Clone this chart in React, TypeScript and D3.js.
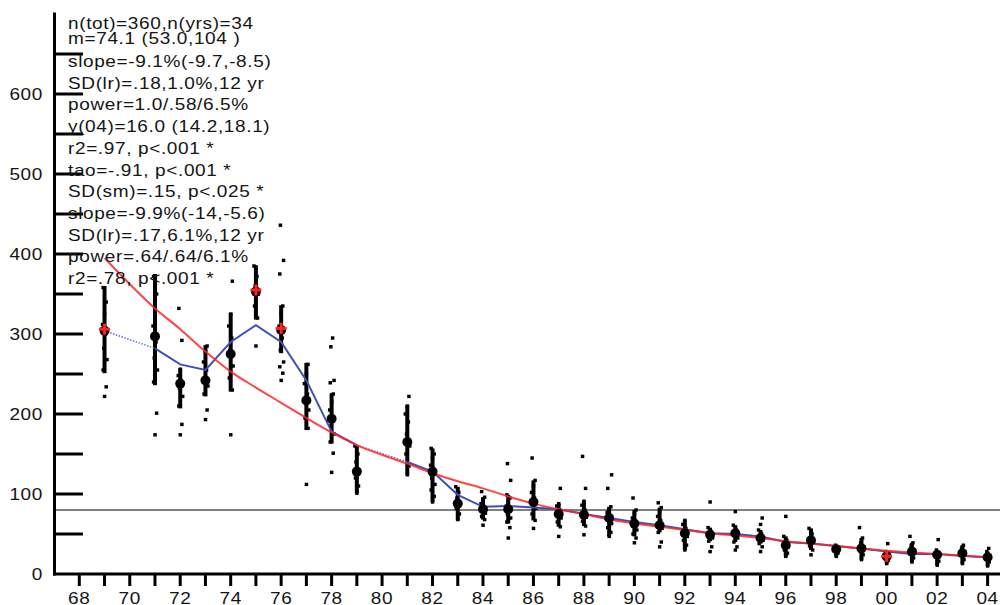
import React from 'react';
import * as d3 from 'd3';

// Sampling years (two-digit labels on the axis)
const YEARS = [
  1969, 1971, 1972, 1973, 1974, 1975, 1976, 1977, 1978, 1979,
  1981, 1982, 1983, 1984, 1985, 1986, 1987, 1988, 1989, 1990,
  1991, 1992, 1993, 1994, 1995, 1996, 1997, 1998, 1999, 2000,
  2001, 2002, 2003, 2004,
];

// Annual means (large black dots)
const MEANS = [
  304, 297, 238, 242, 275, 353, 305, 217, 194, 128,
  165, 128, 88, 81, 81, 90, 75, 74, 70, 63,
  61, 51, 49, 51, 45, 36, 42, 31, 32, 22,
  28, 24, 26, 21,
];

// Vertical interval drawn through each annual mean
const BAR_LO = [
  251, 236, 207, 222, 228, 318, 276, 180, 163, 101,
  124, 90, 67, 68, 63, 67, 59, 60, 47, 47,
  52, 30, 41, 40, 38, 22, 30, 22, 18, 13,
  15, 11, 13, 10,
];
const BAR_HI = [
  360, 375, 257, 286, 326, 386, 336, 264, 226, 161,
  211, 157, 109, 96, 99, 117, 88, 91, 84, 80,
  83, 67, 58, 61, 55, 47, 57, 36, 45, 28,
  39, 30, 36, 28,
];

// Individual observations per year
const OBS: number[][] = [
  [222, 234, 255, 268, 282, 300, 312, 325, 340, 358],
  [174, 201, 240, 255, 270, 290, 310, 330, 350, 372],
  [174, 187, 210, 222, 232, 240, 248, 256, 292, 332],
  [193, 205, 225, 235, 245, 255, 265, 278, 285],
  [174, 230, 245, 260, 280, 295, 310, 325, 366],
  [285, 320, 335, 350, 360, 372, 385],
  [242, 251, 259, 265, 280, 295, 310, 325, 335, 375, 392, 436],
  [112, 182, 195, 205, 215, 225, 238, 250, 262],
  [127, 151, 165, 175, 185, 195, 205, 215, 225, 239, 242, 284, 295],
  [101, 110, 120, 130, 140, 150, 160],
  [124, 135, 150, 160, 175, 190, 200, 210, 222],
  [90, 97, 105, 112, 120, 128, 136, 145, 150, 157],
  [68, 75, 82, 88, 95, 102, 109],
  [61, 68, 72, 76, 80, 84, 88, 92, 96, 103],
  [45, 58, 65, 70, 75, 80, 85, 90, 95, 99, 117, 138],
  [57, 67, 75, 82, 88, 95, 102, 110, 117, 145],
  [47, 59, 65, 70, 75, 80, 85, 88, 107],
  [49, 60, 66, 71, 76, 80, 86, 91, 107, 147],
  [47, 52, 58, 63, 68, 72, 77, 81, 84, 107, 124],
  [39, 45, 50, 55, 60, 65, 70, 75, 80, 95],
  [34, 40, 52, 57, 62, 67, 72, 78, 83, 89],
  [30, 36, 42, 47, 52, 57, 62, 67],
  [28, 34, 41, 45, 49, 53, 58, 90],
  [30, 34, 40, 45, 50, 55, 61, 78],
  [28, 34, 38, 42, 46, 50, 55, 62, 70],
  [22, 26, 30, 34, 38, 42, 47, 72],
  [24, 30, 35, 40, 45, 50, 57],
  [22, 26, 30, 33, 36],
  [18, 24, 29, 34, 39, 45, 58],
  [13, 17, 21, 25, 28, 38],
  [15, 20, 25, 30, 35, 39, 47],
  [11, 16, 21, 25, 30, 43],
  [13, 18, 23, 28, 32, 36],
  [10, 15, 19, 23, 28, 32],
];

// Running smoother (blue)
const SMOOTH = [
  304, 282, 262, 255, 290, 311, 290, 242, 178, 161,
  140, 128, 99, 84, 85, 83, 81, 75, 70, 65,
  61, 56, 51, 50, 47, 40, 38, 35, 32, 28,
  25, 25, 22.5, 21,
];

// Log-linear trend (red)
const TREND = [
  395, 332, 306, 278, 253, 233, 214, 195, 177, 161,
  138, 126, 116, 107, 97, 88, 81, 75, 68, 63,
  59, 55, 51, 48, 45, 41, 38, 35, 32, 29,
  27, 25, 23, 21,
];

// Flagged years (red crosses)
const FLAG_YEARS = [1969, 1975, 1976, 2000];
const FLAG_VALUES = [306, 355, 307, 22];

// Horizontal reference level
const REF_LEVEL = 80;

const Y_TICKS = d3.range(50, 651, 50);
const Y_LABELS = [0, 100, 200, 300, 400, 500, 600];
const X_TICKS = d3.range(1968, 2005);
const X_LABELS = d3.range(1968, 2005, 2);

const STATS_LINES = [
  'n(tot)=360,n(yrs)=34',
  'm=74.1 (53.0,104 )',
  'slope=-9.1%(-9.7,-8.5)',
  'SD(lr)=.18,1.0%,12 yr',
  'power=1.0/.58/6.5%',
  'y(04)=16.0 (14.2,18.1)',
  'r2=.97, p<.001 *',
  'tao=-.91, p<.001 *',
  'SD(sm)=.15, p<.025 *',
  'slope=-9.9%(-14,-5.6)',
  'SD(lr)=.17,6.1%,12 yr',
  'power=.64/.64/6.1%',
  'r2=.78, p<.001 *',
];

const FONT = '"Liberation Sans", Arial, Helvetica, sans-serif';
const FS = 17;
const SX = 1.12;

export default function App() {
  const W = 1000;
  const H = 605;
  const x = d3.scaleLinear().domain([1968, 2004]).range([79.3, 987.6]);
  const y = d3.scaleLinear().domain([0, 700]).range([574, 14]);
  const axisX = 54.5;

  const pts = YEARS.map((yr, i) => ({ yr, m: SMOOTH[i], t: TREND[i] }));

  // Blue smoother: solid between consecutive years, dotted across gaps
  const blueLine = d3
    .line<{ yr: number; m: number }>()
    .x((d) => x(d.yr))
    .y((d) => y(d.m));
  const solidRuns: { yr: number; m: number }[][] = [];
  const gapPairs: { yr: number; m: number }[][] = [];
  let run: { yr: number; m: number }[] = [pts[0]];
  for (let i = 1; i < pts.length; i++) {
    if (pts[i].yr - pts[i - 1].yr === 1) {
      run.push(pts[i]);
    } else {
      if (run.length > 1) solidRuns.push(run);
      gapPairs.push([pts[i - 1], pts[i]]);
      run = [pts[i]];
    }
  }
  if (run.length > 1) solidRuns.push(run);

  const redLine = d3
    .line<{ yr: number; t: number }>()
    .x((d) => x(d.yr))
    .y((d) => y(d.t))
    .curve(d3.curveMonotoneX);

  const jitter = [0, 1.6, -1.4, 2.4, -0.8, 1, -2];

  const textProps = {
    fontFamily: FONT,
    fontSize: FS,
    fill: '#151515',
    letterSpacing: 0.55,
  };

  const baselines = STATS_LINES.map((_, i) => (i === 0 ? 28.5 : i === 1 ? 43.5 : 67 + (i - 2) * 21.7));

  return (
    <svg
      width={W}
      height={H}
      viewBox={`0 0 ${W} ${H}`}
      style={{ position: 'absolute', left: 0, top: 0, background: '#fff' }}
    >
      <rect x={0} y={0} width={W} height={H} fill="#fff" />

      {/* reference level */}
      <line x1={axisX} x2={W} y1={y(REF_LEVEL)} y2={y(REF_LEVEL)} stroke="#000" strokeWidth={1} />

      {/* axes */}
      <line x1={axisX} x2={axisX} y1={y(0) + 1.5} y2={y(702)} stroke="#000" strokeWidth={3} />
      <line x1={axisX - 1.5} x2={W} y1={y(0)} y2={y(0)} stroke="#000" strokeWidth={3} />
      {Y_TICKS.map((v) => (
        <line key={`yt${v}`} x1={axisX} x2={83} y1={y(v)} y2={y(v)} stroke="#000" strokeWidth={3} />
      ))}
      {X_TICKS.map((yr) => (
        <line key={`xt${yr}`} x1={x(yr)} x2={x(yr)} y1={y(0)} y2={y(0) + 12} stroke="#000" strokeWidth={3} />
      ))}
      {Y_LABELS.map((v) => (
        <g key={`yl${v}`} transform={`translate(43,${y(v) + 6}) scale(${SX},1)`}>
          <text {...textProps} textAnchor="end">
            {v}
          </text>
        </g>
      ))}
      {X_LABELS.map((yr) => (
        <g key={`xl${yr}`} transform={`translate(${x(yr)},603.5) scale(${SX},1)`}>
          <text {...textProps} textAnchor="middle">
            {String(yr % 100).padStart(2, '0')}
          </text>
        </g>
      ))}

      {/* annual intervals and observations */}
      {YEARS.map((yr, i) => (
        <g key={`yr${yr}`}>
          <line
            x1={x(yr)}
            x2={x(yr)}
            y1={y(BAR_LO[i])}
            y2={y(BAR_HI[i])}
            stroke="#000"
            strokeWidth={4}
          />
          {OBS[i].map((v, j) => (
            <rect
              key={j}
              x={x(yr) - 1.7 + jitter[j % jitter.length]}
              y={y(v) - 1.7}
              width={3.5}
              height={3.4}
              fill="#000"
            />
          ))}
        </g>
      ))}

      {/* smoother */}
      {solidRuns.map((r, k) => (
        <path key={`bs${k}`} d={blueLine(r) || ''} fill="none" stroke="#3f4fb8" strokeWidth={2} />
      ))}
      {gapPairs.map((r, k) => (
        <path
          key={`bg${k}`}
          d={blueLine(r) || ''}
          fill="none"
          stroke="#6070cc"
          strokeWidth={1.5}
          strokeDasharray="1.5,1.5"
        />
      ))}

      {/* trend */}
      <path d={redLine(pts) || ''} fill="none" stroke="#ff2424" strokeWidth={2} strokeOpacity={0.85} />

      {/* annual means */}
      {YEARS.map((yr, i) => (
        <circle key={`m${yr}`} cx={x(yr)} cy={y(MEANS[i])} r={5} fill="#000" />
      ))}

      {/* flagged years */}
      {FLAG_YEARS.map((yr, i) => (
        <g key={`f${yr}`} stroke="#ff2020" strokeWidth={3}>
          <line x1={x(yr) - 5.5} x2={x(yr) + 5.5} y1={y(FLAG_VALUES[i])} y2={y(FLAG_VALUES[i])} />
          <line x1={x(yr)} x2={x(yr)} y1={y(FLAG_VALUES[i]) - 5.5} y2={y(FLAG_VALUES[i]) + 5.5} />
        </g>
      ))}

      {/* statistics block */}
      {STATS_LINES.map((s, i) => (
        <g key={`s${i}`} transform={`translate(68,${baselines[i]}) scale(${SX},1)`}>
          <text {...textProps}>{s}</text>
        </g>
      ))}
    </svg>
  );
}
